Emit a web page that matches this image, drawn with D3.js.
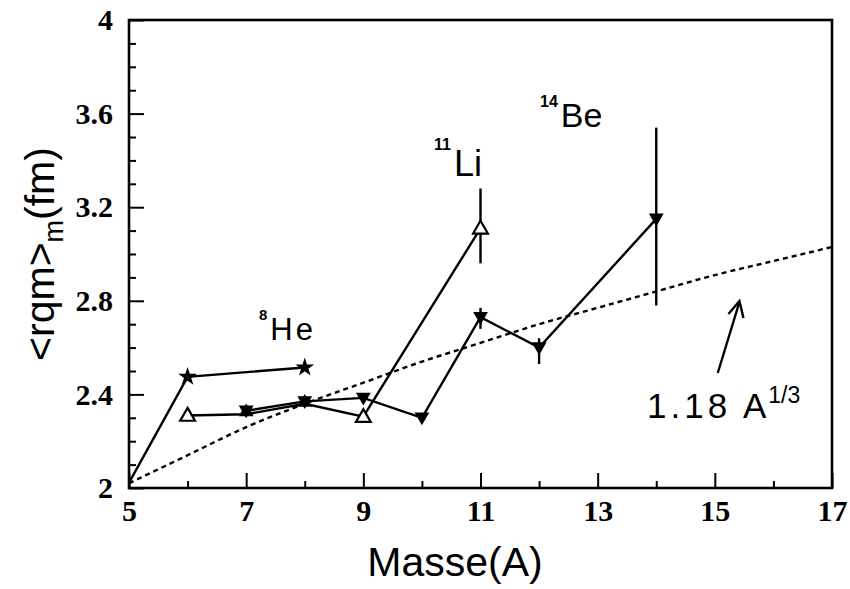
<!DOCTYPE html>
<html>
<head>
<meta charset="utf-8">
<script src="https://cdn.jsdelivr.net/npm/d3@7"></script>
<style>
  html, body { margin: 0; padding: 0; background: #fff; }
  svg { display: block; }
</style>
</head>
<body>
<svg id="chart" width="850" height="589"></svg>
<script>
// ---- data ----
const xMajorTicks = [5, 7, 9, 11, 13, 15, 17];
const xMinorTicks = [6, 8, 10, 12, 14, 16];
const yMajorTicks = [2, 2.4, 2.8, 3.2, 3.6, 4];
const yTickLabels = ["2", "2.4", "2.8", "3.2", "3.6", "4"];
const yMinorTicks = [2.1, 2.2, 2.3, 2.5, 2.6, 2.7, 2.9, 3.0, 3.1, 3.3, 3.4, 3.5, 3.7, 3.8, 3.9];

// He isotopes (stars)
const heMass = [4, 6, 8];
const heR = [1.57, 2.475, 2.515];

// Li isotopes (open triangles)
const liMass = [6, 7, 8, 9, 11];
const liR = [2.31, 2.315, 2.36, 2.305, 3.11];
const liErrLo = [null, null, null, null, 2.96];
const liErrHi = [null, null, null, null, 3.28];

// Be isotopes (filled down triangles)
const beMass = [7, 8, 9, 10, 11, 12, 14];
const beR = [2.33, 2.37, 2.385, 2.30, 2.73, 2.60, 3.15];
const beErrLo = [null, null, null, null, 2.68, 2.53, 2.78];
const beErrHi = [null, null, null, null, 2.77, 2.64, 3.54];

// filled up-triangle points (7, 8)
const bMass = [7, 8];
const bR = [2.325, 2.365];

// systematic 1.18 A^(1/3) curve, read point by point
const curveMass = [5, 6, 7, 8, 9, 10, 11, 12, 13, 14, 15, 16, 17];
const curveR = [2.02, 2.14, 2.26, 2.36, 2.45, 2.54, 2.62, 2.70, 2.77, 2.84, 2.91, 2.97, 3.03];

// ---- drawing ----
const svg = d3.select("#chart");
const L = 129, R = 832, T = 20, B = 488;
const x = d3.scaleLinear().domain([5, 17]).range([L, R]);
const y = d3.scaleLinear().domain([2, 4]).range([B, T]);

svg.append("defs").append("clipPath").attr("id", "plotclip")
  .append("rect").attr("x", L).attr("y", T).attr("width", R - L).attr("height", B - T);

const tickFont = "'Liberation Serif', 'DejaVu Serif', serif";
const sans = "'Liberation Sans', Arial, sans-serif";

// axes with inward ticks
const xAxisMajor = svg.append("g").attr("transform", `translate(0,${B})`)
  .call(d3.axisBottom(x).tickValues(xMajorTicks).tickSizeInner(-15).tickSizeOuter(0).tickPadding(12).tickFormat(d3.format("d")));
const xAxisMinor = svg.append("g").attr("transform", `translate(0,${B})`)
  .call(d3.axisBottom(x).tickValues(xMinorTicks).tickSizeInner(-7).tickSizeOuter(0).tickFormat(""));
const yAxisMajor = svg.append("g").attr("transform", `translate(${L},0)`)
  .call(d3.axisLeft(y).tickValues(yMajorTicks).tickSizeInner(-15).tickSizeOuter(0).tickPadding(16)
    .tickFormat((d, i) => yTickLabels[i]));
const yAxisMinor = svg.append("g").attr("transform", `translate(${L},0)`)
  .call(d3.axisLeft(y).tickValues(yMinorTicks).tickSizeInner(-7).tickSizeOuter(0).tickFormat(""));

[xAxisMajor, xAxisMinor, yAxisMajor, yAxisMinor].forEach(g => {
  g.select(".domain").remove();
  g.selectAll(".tick line").attr("stroke", "#000").attr("stroke-width", 2);
  g.selectAll(".tick text").attr("fill", "#000")
    .style("font-family", tickFont).style("font-weight", "bold").style("font-size", "30px");
});

// frame
svg.append("rect").attr("x", L).attr("y", T).attr("width", R - L).attr("height", B - T)
  .attr("fill", "none").attr("stroke", "#000").attr("stroke-width", 2.6);

const plot = svg.append("g").attr("clip-path", "url(#plotclip)");

// dashed systematic curve
plot.append("path")
  .datum(curveMass.map((m, i) => [m, curveR[i]]))
  .attr("d", d3.line().x(d => x(d[0])).y(d => y(d[1])).curve(d3.curveMonotoneX))
  .attr("fill", "none").attr("stroke", "#000").attr("stroke-width", 2.4)
  .attr("stroke-dasharray", "5,4");

const line = d3.line().x(d => x(d[0])).y(d => y(d[1]));
function drawSeries(mass, r) {
  plot.append("path").datum(mass.map((m, i) => [m, r[i]]))
    .attr("d", line).attr("fill", "none").attr("stroke", "#000").attr("stroke-width", 2.4);
}
drawSeries(heMass, heR);
drawSeries(liMass, liR);
drawSeries(beMass, beR);

// error bars
function errBars(mass, lo, hi) {
  mass.forEach((m, i) => {
    if (lo[i] == null) return;
    plot.append("line").attr("x1", x(m)).attr("x2", x(m))
      .attr("y1", y(lo[i])).attr("y2", y(hi[i]))
      .attr("stroke", "#000").attr("stroke-width", 2.4);
  });
}
errBars(liMass, liErrLo, liErrHi);
errBars(beMass, beErrLo, beErrHi);

// markers
const star = d3.symbol().type(d3.symbolStar).size(110);
const tri = d3.symbol().type(d3.symbolTriangle).size(95);
plot.selectAll(".he").data(heMass.map((m, i) => [m, heR[i]])).enter().append("path")
  .attr("d", star).attr("transform", d => `translate(${x(d[0])},${y(d[1])})`).attr("fill", "#000");
plot.selectAll(".be").data(beMass.map((m, i) => [m, beR[i]])).enter().append("path")
  .attr("d", tri).attr("transform", d => `translate(${x(d[0])},${y(d[1]) - 1}) rotate(180)`).attr("fill", "#000");
plot.selectAll(".b").data(bMass.map((m, i) => [m, bR[i]])).enter().append("path")
  .attr("d", tri).attr("transform", d => `translate(${x(d[0])},${y(d[1])})`).attr("fill", "#000");
plot.selectAll(".li").data(liMass.map((m, i) => [m, liR[i]]).filter(d => d[0] !== 7 && d[0] !== 8)).enter().append("path")
  .attr("d", tri).attr("transform", d => `translate(${x(d[0])},${y(d[1]) + 1})`)
  .attr("fill", "#fff").attr("stroke", "#000").attr("stroke-width", 2.2);

// nucleus labels
function nucLabel(px, py, mass, sym, size, supSize, supRise, ls) {
  const t = svg.append("text").attr("x", px).attr("y", py)
    .style("font-family", sans).style("font-size", size + "px").attr("fill", "#000");
  t.append("tspan").text(mass).style("font-size", supSize + "px").style("font-weight", "bold")
    .attr("dy", -supRise);
  t.append("tspan").text(sym).attr("dy", supRise).attr("dx", 3).attr("letter-spacing", ls);
}
nucLabel(259, 340, "8", "He", 31, 15, 20, 3);
nucLabel(434, 176, "11", "Li", 36, 16, 26, 0);
nucLabel(540, 127, "14", "Be", 34, 16, 20, 0);

// 1.18 A^1/3 label
const fl = svg.append("text").attr("x", 647).attr("y", 418)
  .style("font-family", sans).style("font-size", "35px").attr("fill", "#000");
fl.append("tspan").text("1.18 A").attr("letter-spacing", "4");
fl.append("tspan").text("1/3").style("font-size", "23px").attr("dy", -15).attr("dx", -2);

// arrow
svg.append("line").attr("x1", x(15.05)).attr("y1", 373).attr("x2", x(15.42)).attr("y2", 302)
  .attr("stroke", "#000").attr("stroke-width", 2.4);
svg.append("path")
  .attr("d", `M${x(15.42) - 11},${314} L${x(15.42)},${301} L${x(15.42) + 4},${318}`)
  .attr("fill", "none").attr("stroke", "#000").attr("stroke-width", 2.4);

// axis titles
svg.append("text").attr("x", 455).attr("y", 576).attr("text-anchor", "middle")
  .style("font-family", sans).style("font-size", "41px").attr("fill", "#000")
  .text("Masse(A)");

const yt = svg.append("text").attr("transform", "translate(54,254) rotate(-90)")
  .attr("text-anchor", "middle")
  .style("font-family", sans).style("font-size", "41px").attr("fill", "#000");
yt.append("tspan").text("<rqm>");
yt.append("tspan").text("m").style("font-size", "27px").attr("dy", 9);
yt.append("tspan").text("(fm)").attr("dy", -9);
</script>
</body>
</html>
